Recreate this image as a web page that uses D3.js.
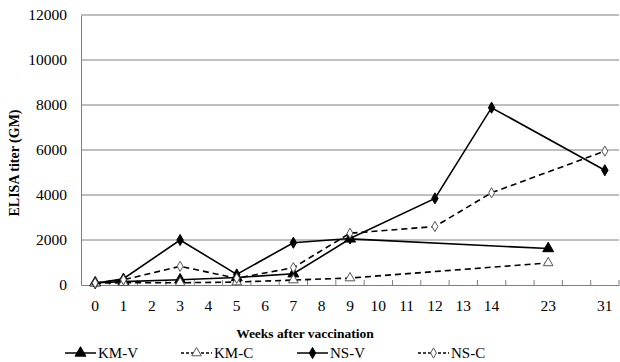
<!DOCTYPE html>
<html lang="en">
  <head>
    <meta charset="UTF-8" />
    <script src="https://d3js.org/d3.v7.min.js"></script>
    <title>ELISA titer after vaccination</title>
    <style type="text/css">
      body { margin: 0; background: #fff; }
      text { font-family: 'Liberation Serif', 'Times New Roman', serif; }
    </style>
  </head>
  <body>
    <svg width="620" height="362"></svg>
  </body>
  <script type="text/javascript">
    // categories on the x axis (the two gaps are empty slots, as in the original)
    const weeks = ['0', '1', '2', '3', '4', '5', '6', '7', '8', '9', '10', '11', '12', '13', '14', 'gap1', '23', 'gap2', '31'];
    const yTicks = [0, 2000, 4000, 6000, 8000, 10000, 12000];

    // values, keyed by week
    const kmVWeeks = ['0', '1', '3', '5', '7', '9', '23'];
    const kmV = [100, 150, 230, 330, 500, 2050, 1620];
    const kmCWeeks = ['0', '1', '3', '5', '7', '9', '23'];
    const kmC = [80, 100, 100, 130, 220, 310, 980];
    const nsVWeeks = ['0', '1', '3', '5', '7', '9', '12', '14', '31'];
    const nsV = [80, 280, 2000, 470, 1880, 2070, 3850, 7880, 5100];
    const nsCWeeks = ['0', '1', '3', '5', '7', '9', '12', '14', '31'];
    const nsC = [90, 230, 830, 300, 770, 2300, 2600, 4100, 5950];

    const series = [
      { name: 'KM-V', weeks: kmVWeeks, values: kmV, dash: null, marker: 'triangle', fill: '#000' },
      { name: 'KM-C', weeks: kmCWeeks, values: kmC, dash: '6,4', marker: 'triangle', fill: '#fff' },
      { name: 'NS-V', weeks: nsVWeeks, values: nsV, dash: null, marker: 'diamond', fill: '#000' },
      { name: 'NS-C', weeks: nsCWeeks, values: nsC, dash: '6,4', marker: 'diamond', fill: '#fff' },
    ];

    const svg = d3.select('svg');
    const mLeft = 81, mRight = 619, mTop = 15, mBottom = 285;

    const x = d3.scaleBand().domain(weeks).range([mLeft, mRight]).padding(0);
    const y = d3.scaleLinear().domain([0, 12000]).range([mBottom, mTop]);
    const cx = (d) => x(d) + x.bandwidth() / 2;

    // gridlines
    svg.append('g')
      .selectAll('line')
      .data(yTicks.filter((d) => d > 0))
      .join('line')
      .attr('x1', mLeft)
      .attr('x2', mRight)
      .attr('y1', (d) => y(d))
      .attr('y2', (d) => y(d))
      .attr('stroke', '#7f7f7f')
      .attr('stroke-width', 1);

    // y axis
    svg.append('g')
      .attr('transform', `translate(${mLeft},0)`)
      .call(d3.axisLeft(y).tickValues(yTicks).tickSize(0).tickPadding(14).tickFormat(d3.format('d')))
      .call((g) => g.attr('font-family', 'Liberation Serif'))
      .call((g) => g.select('.domain').attr('stroke', '#7f7f7f'))
      .call((g) => g.selectAll('text').attr('font-size', '15.5px').attr('fill', '#000'));

    // x axis (labels at band centres, ticks at band edges pointing up)
    const xAxis = svg.append('g').attr('transform', `translate(0,${mBottom})`);
    xAxis.call(d3.axisBottom(x).tickSize(0).tickPadding(15).tickFormat((d) => (d.startsWith('gap') ? '' : d)))
      .call((g) => g.attr('font-family', 'Liberation Serif'))
      .call((g) => g.select('.domain').attr('stroke', '#7f7f7f'))
      .call((g) => g.selectAll('text').attr('font-size', '15.5px').attr('fill', '#000'));
    xAxis.selectAll('.edge')
      .data(weeks.slice(1).concat(['end']))
      .join('line')
      .attr('class', 'edge')
      .attr('x1', (d) => (d === 'end' ? mRight : x(d)))
      .attr('x2', (d) => (d === 'end' ? mRight : x(d)))
      .attr('y1', 0)
      .attr('y2', -5)
      .attr('stroke', '#7f7f7f');

    // axis titles
    svg.append('text')
      .attr('transform', 'translate(19,163) rotate(-90)')
      .attr('text-anchor', 'middle')
      .attr('font-size', '14px')
      .attr('font-weight', 'bold')
      .text('ELISA titer (GM)');

    svg.append('text')
      .attr('x', 305)
      .attr('y', 338)
      .attr('text-anchor', 'middle')
      .attr('font-size', '13.5px')
      .attr('font-weight', 'bold')
      .text('Weeks after vaccination');

    const tri = d3.symbol().type(d3.symbolTriangle);
    const dia = d3.symbol().type(d3.symbolDiamond);
    const markerPath = (s) => (s.marker === 'triangle' ? tri.size(s.fill === '#000' ? 52 : 40)() : dia.size(s.fill === '#000' ? 36 : 30)());

    // lines and markers
    for (const s of series) {
      const pts = s.weeks.map((w, i) => ({ w, v: s.values[i] }));
      const line = d3.line().x((d) => cx(d.w)).y((d) => y(d.v));
      svg.append('path')
        .datum(pts)
        .attr('d', line)
        .attr('fill', 'none')
        .attr('stroke', '#000')
        .attr('stroke-width', 1.6)
        .attr('stroke-dasharray', s.dash);

      svg.append('g')
        .selectAll('path')
        .data(pts)
        .join('path')
        .attr('transform', (d) => `translate(${cx(d.w)},${y(d.v)})`)
        .attr('d', markerPath(s))
        .attr('fill', s.fill)
        .attr('stroke', s.fill === '#000' ? '#000' : '#555')
        .attr('stroke-width', 1);
    }

    // legend
    const legendX = [65, 181, 297, 418];
    const legend = svg.append('g').attr('transform', 'translate(0,353)');
    series.forEach((s, i) => {
      const g = legend.append('g').attr('transform', `translate(${legendX[i]},0)`);
      g.append('line')
        .attr('x1', 0)
        .attr('x2', 31)
        .attr('y1', 0)
        .attr('y2', 0)
        .attr('stroke', '#000')
        .attr('stroke-width', 1.5)
        .attr('stroke-dasharray', s.dash ? '3,2' : null);
      g.append('path')
        .attr('transform', 'translate(15.5,0)')
        .attr('d', markerPath(s))
        .attr('fill', s.fill)
        .attr('stroke', s.fill === '#000' ? '#000' : '#555');
      g.append('text')
        .attr('x', 33)
        .attr('y', 5)
        .attr('font-size', '15px')
        .text(s.name);
    });
  </script>
</html>
